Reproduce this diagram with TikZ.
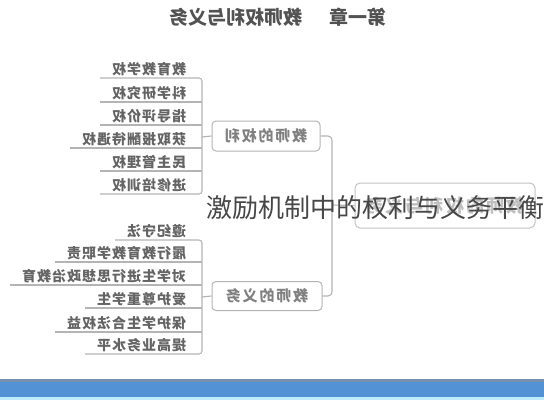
\documentclass[tikz,border=0pt]{standalone}
\usepackage{fontspec}
\usepackage{graphicx}
\newfontfamily\cjk{Noto Sans CJK SC}
\newfontfamily\leaffont[LetterSpace=7]{Noto Sans CJK SC}
\newfontfamily\branchfont[LetterSpace=12]{Noto Sans CJK SC}
\definecolor{linegray}{RGB}{180,180,180}
\definecolor{leaftext}{RGB}{100,100,100}
\definecolor{barblue}{RGB}{84,146,214}
\definecolor{baredge}{RGB}{120,145,175}
\definecolor{barlow}{RGB}{190,238,252}
\begin{document}
\begin{tikzpicture}[x=1pt,y=-1pt,
  leaf/.style={anchor=south east, inner xsep=12pt, inner ysep=2pt, outer sep=0pt,
    font=\leaffont\bfseries\fontsize{14}{16}\selectfont, text=leaftext},
  conn/.style={draw=linegray, line width=1.1pt},
  branch/.style={draw=linegray, line width=1pt, rounded corners=4pt, fill=white,
    minimum width=108pt, minimum height=30pt, inner sep=0pt,
    font=\branchfont\bfseries\fontsize{15}{17}\selectfont, text=black!50},
  rootbox/.style={draw=linegray!80, line width=1pt, rounded corners=5pt, fill=white,
    minimum width=180pt, minimum height=45pt, inner sep=0pt,
    font=\branchfont\bfseries\fontsize{18}{20}\selectfont, text=black!25}]
\useasboundingbox (0,0) rectangle (544,400);
\fill[white] (0,0) rectangle (544,400);

% title (mirrored)
\node[font=\cjk\bfseries\fontsize{19}{21}\selectfont, text=black!68] (title) at (278,17)
  {\reflectbox{第一章\hspace{27pt}教师权利与义务}};

% bracket coordinates
\coordinate (rb) at (202,137);
\coordinate (db) at (202,297);
\coordinate (mid) at (332,205);

% rights leaves
\node[leaf] (r1) at (198,78)  {\reflectbox{教育教学权}};
\node[leaf] (r2) at (198,102) {\reflectbox{科学研究权}};
\node[leaf] (r3) at (198,125) {\reflectbox{指导评价权}};
\node[leaf] (r4) at (198,148) {\reflectbox{获取报酬待遇权}};
\node[leaf] (r5) at (198,171) {\reflectbox{民主管理权}};
\node[leaf] (r6) at (198,194) {\reflectbox{进修培训权}};

% duties leaves
\node[leaf] (d1) at (198,240) {\reflectbox{遵纪守法}};
\node[leaf] (d2) at (198,262) {\reflectbox{履行教育教学职责}};
\node[leaf] (d3) at (198,285) {\reflectbox{对学生进行思想政治教育}};
\node[leaf] (d4) at (198,308) {\reflectbox{爱护尊重学生}};
\node[leaf] (d5) at (198,332) {\reflectbox{保护学生合法权益}};
\node[leaf] (d6) at (198,354) {\reflectbox{提高业务水平}};

% brackets
\draw[conn, rounded corners=3pt] (r1.south west) -- (r1.south west -| rb) -- (r6.south west -| rb) -- (r6.south west);
\foreach \n in {r2,r3,r4,r5} \draw[conn] (\n.south west) -- (\n.south west -| rb);
\draw[conn, rounded corners=3pt] (d1.south west) -- (d1.south west -| db) -- (d6.south west -| db) -- (d6.south west);
\foreach \n in {d2,d3,d4,d5} \draw[conn] (\n.south west) -- (\n.south west -| db);

% branch boxes
\node[branch] (rights) at (266,136) {\reflectbox{教师的权利}};
\node[branch, minimum width=110pt, minimum height=29pt] (duties) at (267,296) {\reflectbox{教师的义务}};
\node[rootbox] (root) at (445,205.5) {\reflectbox{教师的权利与义务}};

\draw[conn] (rb) -- (rights.west);
\draw[conn] (db) -- (duties.west);
\draw[conn, rounded corners=4pt] (rights.east) -- (rights.east -| mid) -- (duties.east -| mid) -- (duties.east);
\draw[conn] (root.west) -- (mid);

% overlay text
\node[font=\cjk\fontsize{26}{28}\selectfont, text=black!72, inner sep=0pt] (overlay) at (375,208)
  {激励机制中的权利与义务平衡};

% bottom bar
\fill[baredge] (0,379) rectangle (544,381.5);
\fill[barblue] (0,381.5) rectangle (544,397);
\fill[barlow] (0,397) rectangle (544,400);
\end{tikzpicture}
\end{document}
